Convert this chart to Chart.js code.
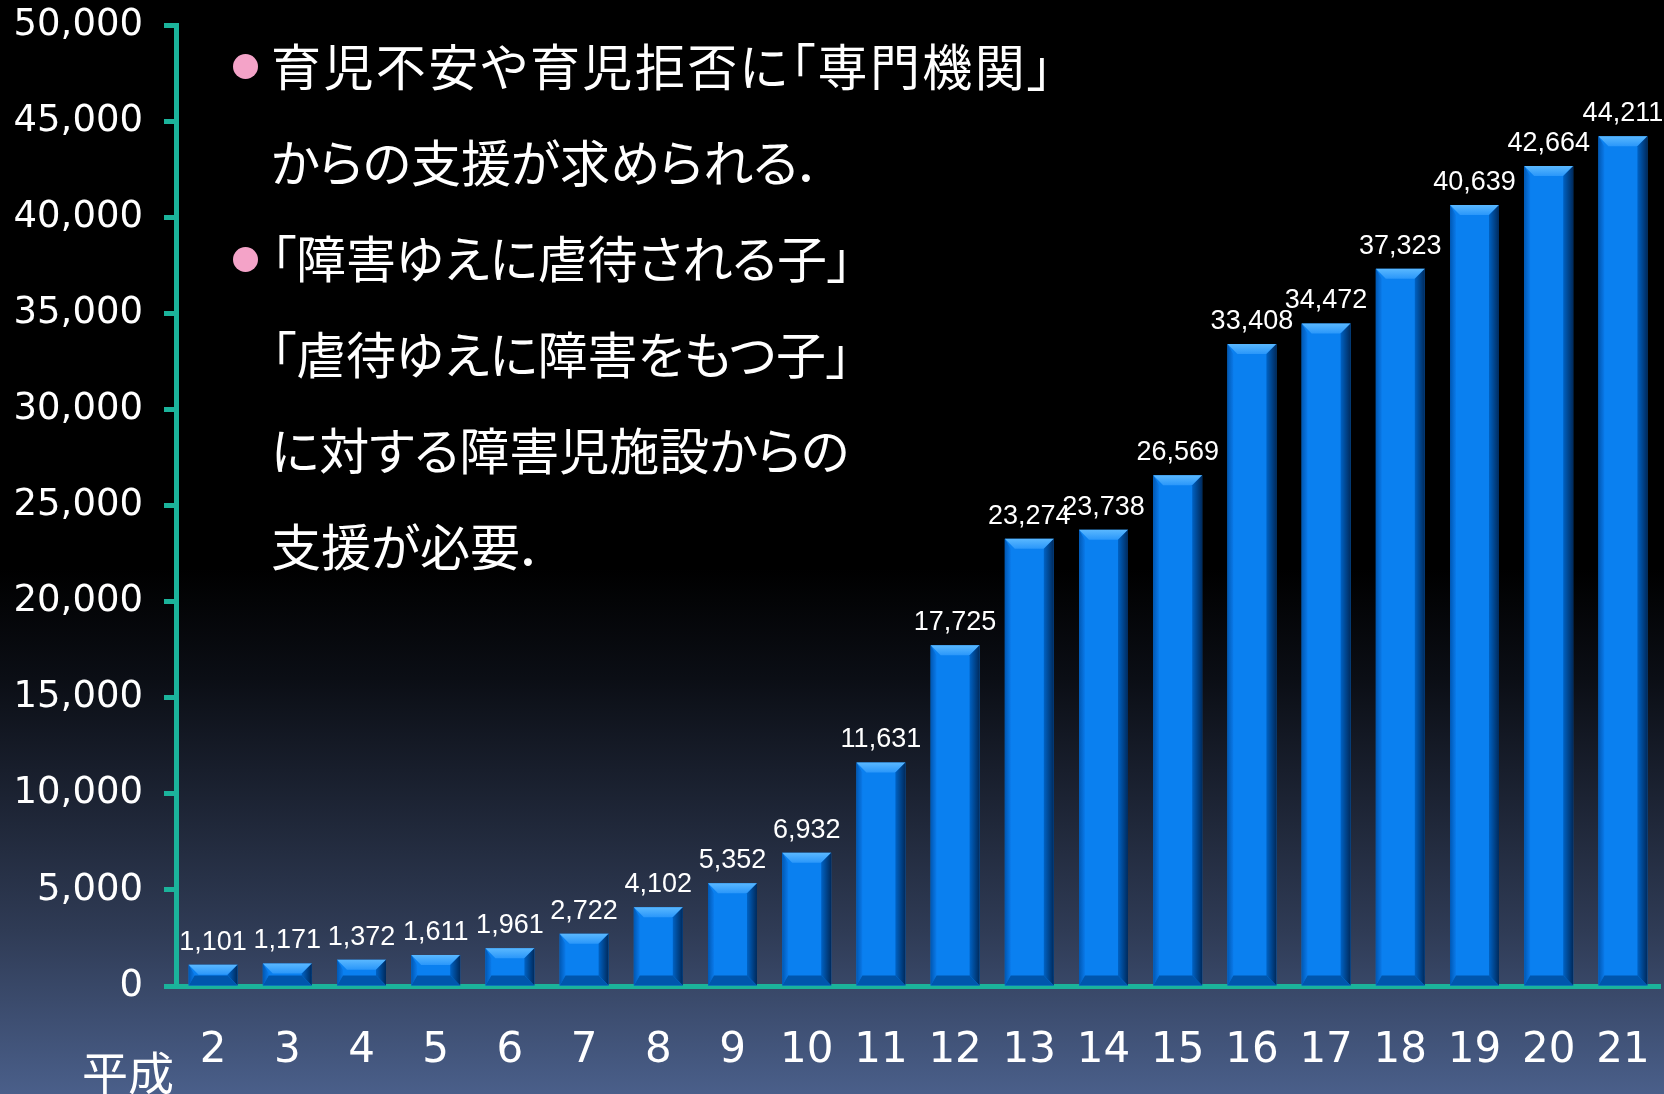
<!DOCTYPE html>
<html>
<head>
<meta charset="utf-8">
<script src="https://cdn.jsdelivr.net/npm/chart.js@4.4.0/dist/chart.umd.min.js"></script>
<style>
    body {
        margin: 0;
        width: 1664px;
        height: 1094px;
        overflow: hidden;
        background: linear-gradient(to bottom, #000 0%, #000 52%, #0b0e15 62%, #1c2333 73%, #2f3b55 85%, #4a5f8a 100%);
    }
    #wrap { position: relative; width: 1664px; height: 1094px; }
    #chart { position: absolute; left: 0; top: 0; }
    .notes {
        position: absolute;
        left: 271px;
        top: 16px;
        font-family: "Noto Sans CJK JP", sans-serif;
        font-size: 50px;
        line-height: 96px;
        color: #fff;
        white-space: nowrap;
        font-feature-settings: "palt";
    }
    .notes .wide { letter-spacing: 2.4px; }
    .dot {
        position: absolute;
        width: 25px;
        height: 25px;
        border-radius: 50%;
        background: #f4a3c8;
        left: 233px;
    }
    .era {
        position: absolute;
        left: 82px;
        top: 1047px;
        font-family: "Noto Sans CJK JP", sans-serif;
        font-size: 46px;
        line-height: 46px;
        color: #fff;
    }
</style>
</head>
<body>
<div id="wrap">
    <canvas id="chart" width="1664" height="1094"></canvas>
    <div class="dot" style="top:54px"></div>
    <div class="dot" style="top:247px"></div>
    <div class="notes">
        <span class="wide">育児不安や育児拒否に「専門機関」</span><br>
        からの支援が求められる．<br>
        「障害ゆえに虐待される子」<br>
        「虐待ゆえに障害をもつ子」<br>
        に対する障害児施設からの<br>
        支援が必要．
    </div>
    <div class="era">平成</div>
</div>
<script>
// Data
const years = ['2', '3', '4', '5', '6', '7', '8', '9', '10', '11', '12', '13', '14', '15', '16', '17', '18', '19', '20', '21'];
const cases = [1101, 1171, 1372, 1611, 1961, 2722, 4102, 5352, 6932, 11631, 17725, 23274, 23738, 26569, 33408, 34472, 37323, 40639, 42664, 44211];
const yMax = 50000;
const yStep = 5000;

const TEAL = '#1bb39b';

// Bevelled look of the bars
const bevelPlugin = {
    id: 'bevel',
    afterDatasetsDraw(chart) {
        const ctx = chart.ctx;
        const meta = chart.getDatasetMeta(0);
        meta.data.forEach(bar => {
            const { x, y, base, width } = bar.getProps(['x', 'y', 'base', 'width'], true);
            const L = x - width / 2, R = x + width / 2, T = y, B = base;
            const b = Math.min(10, (B - T) / 2);
            ctx.save();

            // top face
            let g = ctx.createLinearGradient(0, T, 0, T + b);
            g.addColorStop(0, '#5ab8ff');
            g.addColorStop(1, '#2a97fa');
            ctx.fillStyle = g;
            ctx.beginPath();
            ctx.moveTo(L, T); ctx.lineTo(R, T); ctx.lineTo(R - b, T + b); ctx.lineTo(L + b, T + b);
            ctx.closePath(); ctx.fill();

            // right face
            g = ctx.createLinearGradient(R - b, 0, R, 0);
            g.addColorStop(0, '#0062c4');
            g.addColorStop(1, '#002a5c');
            ctx.fillStyle = g;
            ctx.beginPath();
            ctx.moveTo(R, T); ctx.lineTo(R, B); ctx.lineTo(R - b, B - b); ctx.lineTo(R - b, T + b);
            ctx.closePath(); ctx.fill();

            // left face
            g = ctx.createLinearGradient(L, 0, L + b * 0.6, 0);
            g.addColorStop(0, '#0058b4');
            g.addColorStop(1, '#0a7aea');
            ctx.fillStyle = g;
            ctx.beginPath();
            ctx.moveTo(L, T); ctx.lineTo(L + b * 0.6, T + b); ctx.lineTo(L + b * 0.6, B - b); ctx.lineTo(L, B);
            ctx.closePath(); ctx.fill();

            // bottom face
            ctx.fillStyle = '#0056ad';
            ctx.beginPath();
            ctx.moveTo(L, B); ctx.lineTo(R, B); ctx.lineTo(R - b, B - b); ctx.lineTo(L + b * 0.6, B - b);
            ctx.closePath(); ctx.fill();

            ctx.restore();
        });
    }
};

// Value labels above bars
const valueLabels = {
    id: 'valueLabels',
    afterDatasetsDraw(chart) {
        const ctx = chart.ctx;
        const meta = chart.getDatasetMeta(0);
        ctx.save();
        ctx.fillStyle = '#fff';
        ctx.font = '27px "Liberation Sans", Arial, sans-serif';
        ctx.textAlign = 'center';
        ctx.textBaseline = 'alphabetic';
        meta.data.forEach((bar, i) => {
            ctx.fillText(cases[i].toLocaleString('en-US'), bar.x, bar.y - 15);
        });
        ctx.restore();
    }
};

// drop the automatic label overhang padding, layout.padding handles it
function noOverhang(scale) {
    scale.paddingTop = 0;
    scale.paddingBottom = 0;
    scale.paddingLeft = 0;
    scale.paddingRight = 0;
}

const ctx = document.getElementById('chart').getContext('2d');
new Chart(ctx, {
    type: 'bar',
    data: {
        labels: years,
        datasets: [{
            data: cases,
            backgroundColor: '#0a80f0',
            borderWidth: 0,
            categoryPercentage: 1,
            barPercentage: 0.66
        }]
    },
    options: {
        responsive: false,
        animation: false,
        devicePixelRatio: 1,
        layout: { padding: { top: 25, right: 4, left: 0, bottom: 0 } },
        plugins: {
            legend: { display: false },
            tooltip: { enabled: false }
        },
        scales: {
            x: {
                grid: { display: false, drawTicks: false },
                border: { display: true, color: TEAL, width: 5 },
                ticks: {
                    color: '#fff',
                    padding: 40,
                    maxRotation: 0,
                    font: { family: 'DejaVu Sans', size: 42 }
                },
                afterFit(scale) {
                    scale.height = 108;
                    noOverhang(scale);
                }
            },
            y: {
                min: 0,
                max: yMax,
                grid: { drawOnChartArea: false, color: TEAL, tickLength: 12, tickWidth: 5 },
                border: { display: true, color: TEAL, width: 5 },
                ticks: {
                    stepSize: yStep,
                    color: '#fff',
                    padding: 21,
                    font: { family: 'DejaVu Sans', size: 37 },
                    callback: v => v.toLocaleString('en-US')
                },
                afterFit(scale) {
                    scale.width = 176;
                    noOverhang(scale);
                }
            }
        }
    },
    plugins: [bevelPlugin, valueLabels]
});
</script>
</body>
</html>
